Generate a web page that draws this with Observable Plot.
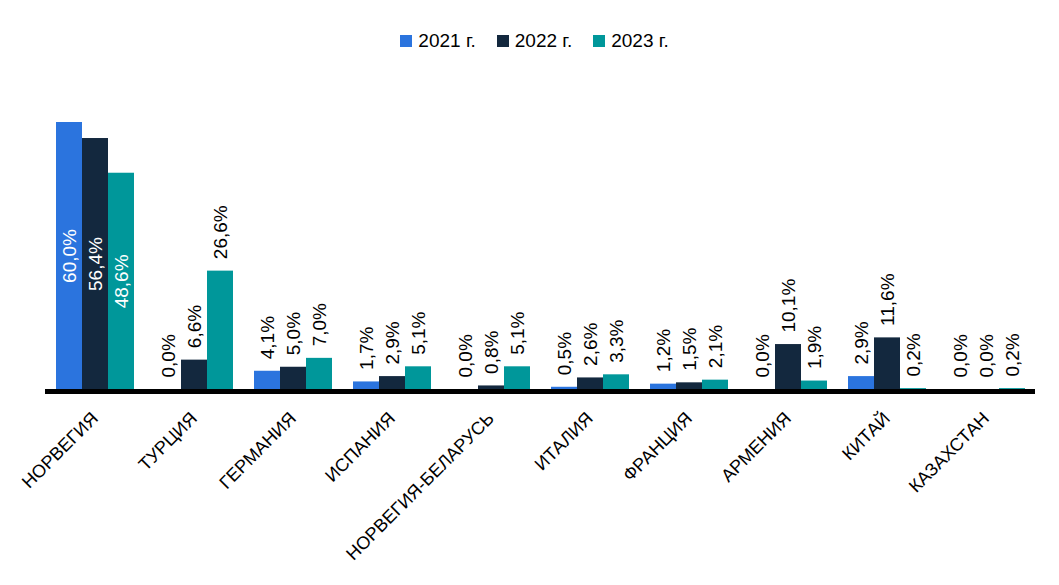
<!DOCTYPE html>
<html>
<head>
<meta charset="utf-8">
<script src="https://cdn.jsdelivr.net/npm/d3@7"></script>
<script src="https://cdn.jsdelivr.net/npm/@observablehq/plot@0.6"></script>
<style>
  html, body { margin: 0; padding: 0; background: #fff; }
  body { width: 1059px; height: 585px; overflow: hidden; font-family: "Liberation Sans", Arial, sans-serif; }
  #legend { height: 60px; box-sizing: border-box; padding-top: 22px; padding-left: 10px; display: flex; justify-content: center; gap: 21px; font-size: 19px; line-height: 24px; color: #000; }
  #legend .item { display: flex; align-items: center; }
  #legend .sw { width: 12px; height: 12px; margin-right: 6px; }
</style>
</head>
<body>
<div id="legend"></div>
<div id="chart"></div>
<script>
const countries = ["НОРВЕГИЯ","ТУРЦИЯ","ГЕРМАНИЯ","ИСПАНИЯ","НОРВЕГИЯ-БЕЛАРУСЬ","ИТАЛИЯ","ФРАНЦИЯ","АРМЕНИЯ","КИТАЙ","КАЗАХСТАН"];
const years = ["2021 г.","2022 г.","2023 г."];
const v2021 = [60.0, 0.0, 4.1, 1.7, 0.0, 0.5, 1.2, 0.0, 2.9, 0.0];
const v2022 = [56.4, 6.6, 5.0, 2.9, 0.8, 2.6, 1.5, 10.1, 11.6, 0.0];
const v2023 = [48.6, 26.6, 7.0, 5.1, 5.1, 3.3, 2.1, 1.9, 0.2, 0.2];
const colors = ["#2b74de", "#13283e", "#00979a"];

const series = [v2021, v2022, v2023];
const data = [];
countries.forEach((c, i) => {
  years.forEach((y, j) => data.push({country: c, year: y, value: series[j][i]}));
});
const fmt = v => v.toFixed(1).replace(".", ",") + "%";
const inside = data.filter(d => d.country === countries[0]);
const outside = data.filter(d => d.country !== countries[0]);

const legend = document.getElementById("legend");
years.forEach((y, j) => {
  const it = document.createElement("div");
  it.className = "item";
  it.innerHTML = `<span class="sw" style="background:${colors[j]}"></span><span>${y}</span>`;
  legend.appendChild(it);
});

const chart = Plot.plot({
  width: 1059,
  height: 525,
  marginLeft: 45,
  marginRight: 24,
  marginTop: 62,
  marginBottom: 196,
  style: {fontFamily: "Liberation Sans, Arial, sans-serif", fontSize: "18px", color: "#000", background: "#fff"},
  fx: {domain: countries, paddingInner: 0, paddingOuter: 0, label: null, tickRotate: -45, tickSize: 0, tickPadding: 26},
  x: {domain: years, paddingInner: 0, paddingOuter: 0.38, axis: null},
  y: {domain: [0, 60], axis: null},
  color: {domain: years, range: colors},
  marks: [
    Plot.barY(data, {fx: "country", x: "year", y: "value", fill: "year"}),
    Plot.ruleY([0], {stroke: "#000", strokeWidth: 5, dy: 2}),
    Plot.text(outside, {fx: "country", x: "year", y: "value", text: d => fmt(d.value), rotate: -90, textAnchor: "start", dy: -12, fontSize: 19, fill: "#000"}),
    Plot.text(inside, {fx: "country", x: "year", y: d => d.value / 2, text: d => fmt(d.value), rotate: -90, textAnchor: "middle", fontSize: 19, fill: "#fff"})
  ]
});
document.getElementById("chart").appendChild(chart);
</script>
</body>
</html>
